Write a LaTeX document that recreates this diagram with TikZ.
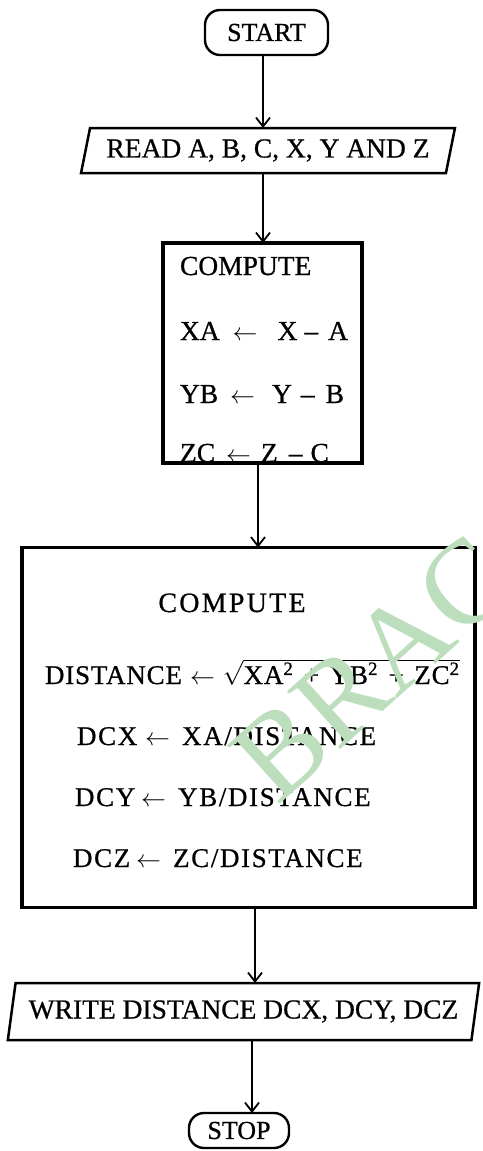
\documentclass[tikz,border=0pt]{standalone}
\usepackage{fontspec}
\setmainfont{Liberation Serif}[FakeBold=0.7]
\newfontfamily\wmfont{Liberation Serif}
\usetikzlibrary{arrows.meta,shapes.geometric}
\definecolor{wm}{RGB}{188,222,188}
\begin{document}
\begin{tikzpicture}[x=1pt,y=-1pt,
  every node/.style={inner sep=0pt,outer sep=0pt},
  term/.style={draw,line width=2.4pt,rounded corners=15pt,font=\fontsize{26}{30}\selectfont},
  io/.style={draw,line width=2.5pt,trapezium,trapezium stretches=true,font=\fontsize{27.5}{30}\selectfont},
  procbox/.style={draw,line width=3.4pt,rectangle},
  txta/.style={font=\fontsize{27.5}{30}\selectfont,anchor=base west},
  txtb/.style={font=\fontsize{27}{30}\selectfont\addfontfeature{LetterSpace=6},anchor=base west},
  arr/.style={line width=2pt,-{Straight Barb[length=9pt,width=14pt,line width=1.8pt]}},
  wmark/.style={font=\wmfont\fontsize{120}{130}\selectfont,text=wm}
]
\useasboundingbox (0,0) rectangle (482,1151);

\node[term,minimum width=123pt,minimum height=45pt] (start) at (266.5,32.5) {START};
\node[io,trapezium left angle=70,trapezium right angle=110,minimum width=374pt,minimum height=45pt] (read) at (268,150.5) {READ A, B, C, X, Y AND Z};

\node[procbox,minimum width=199pt,minimum height=220pt] (comp1) at (262.5,353) {};
\node[txta] (c1a) at (180,275) {COMPUTE};
\node[txta] (c1b) at (180,340) {XA\hspace{13pt}$\leftarrow$\hspace{20pt}X\hspace{7pt}--\hspace{10pt}A};
\node[txta] (c1c) at (180,403) {YB\hspace{12pt}$\leftarrow$\hspace{17pt}Y\hspace{9pt}--\hspace{11pt}B};
\node[txta] (c1d) at (180,462) {ZC\hspace{11pt}$\leftarrow$\hspace{10pt}Z\hspace{11pt}--\hspace{8pt}C};

\node[procbox,minimum width=453pt,minimum height=360pt] (comp2) at (248.5,727.5) {};
\node[font=\fontsize{28}{30}\selectfont\addfontfeature{LetterSpace=8},anchor=base] (c2a) at (232,612) {COMPUTE};
\node[txtb,font=\fontsize{27}{30}\selectfont\addfontfeature{LetterSpace=3}] (c2b) at (45,684) {DISTANCE\hspace{8pt}$\leftarrow$\hspace{8pt}$\sqrt{\hbox{XA\textsuperscript{2}\hspace{3pt} + \hspace{3pt}YB\textsuperscript{2}\hspace{3pt} + \hspace{3pt}ZC\textsuperscript{2}}}$};
\node[txtb] (c2c) at (77,745) {DCX\hspace{8pt}$\leftarrow$\hspace{12pt}XA/DISTANCE};
\node[txtb] (c2d) at (75,806) {DCY\hspace{6pt}$\leftarrow$\hspace{12pt}YB/DISTANCE};
\node[txtb] (c2e) at (73,867) {DCZ\hspace{6pt}$\leftarrow$\hspace{12pt}ZC/DISTANCE};

\node[io,trapezium left angle=72,trapezium right angle=108,minimum width=473pt,minimum height=57pt] (write) at (243.5,1011.5) {WRITE DISTANCE DCX, DCY, DCZ};
\node[term,minimum width=100pt,minimum height=35pt] (stop) at (239,1130.5) {STOP};

\coordinate (xa) at (263,0);
\coordinate (xb) at (258,0);
\coordinate (xc) at (255,0);
\coordinate (xd) at (252,0);
\draw[arr] (xa |- start.south) -- (xa |- read.north);
\draw[arr] (xa |- read.south) -- (xa |- comp1.north);
\draw[arr] (xb |- comp1.south) -- (xb |- comp2.north);
\draw[arr] (xc |- comp2.south) -- (xc |- write.north);
\draw[arr] (xd |- write.south) -- (xd |- stop.north);

\begin{scope}
\clip (0,0) rectangle (482,1151);
\node[wmark,rotate=42] (wm) at (373,668) {BRAC};
\end{scope}
\end{tikzpicture}
\end{document}
